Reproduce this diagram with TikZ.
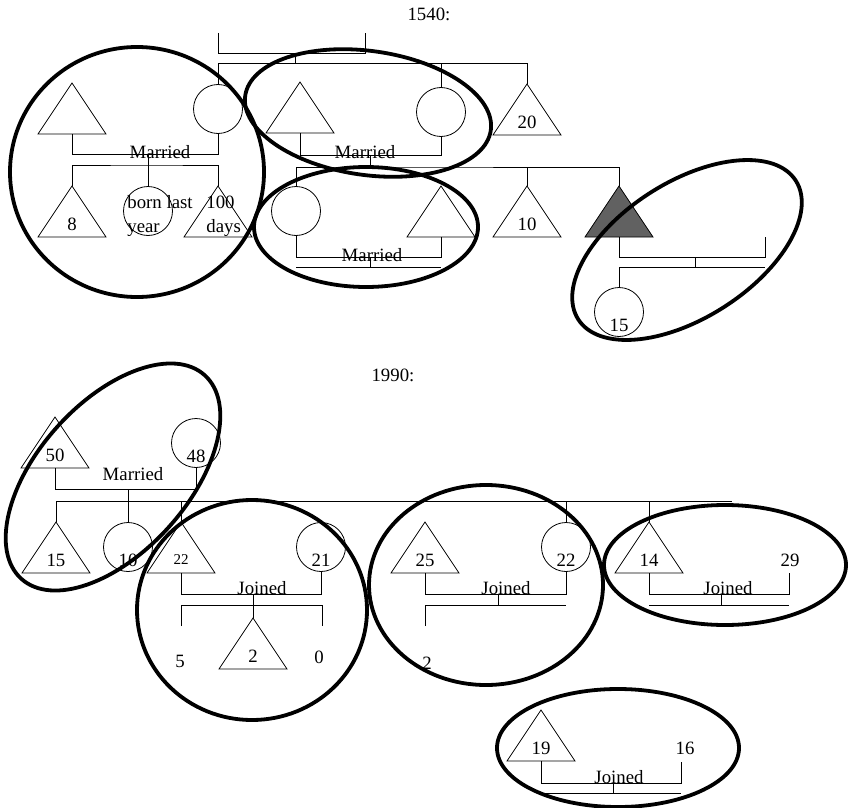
\documentclass[tikz,border=0pt]{standalone}
\usepackage{fontspec}
\setmainfont{Liberation Serif}
\tikzset{
  ring/.style={line width=3.8pt},
  male/.pic={
    \draw[pic actions] (0,0) -- (34,51) -- (-34,51) -- cycle;
    \coordinate (-top) at (0,0);
    \coordinate (-bot) at (0,51);
    \node (-lab) at (0,38) {#1};
  },
  female/.pic={
    \node[draw,circle,minimum size=49,inner sep=0] (-c) at (0,0) {};
    \node (-lab) at (0,13) {#1};
  },
}

\begin{document}
\begin{tikzpicture}[x=1pt,y=-1pt,line width=0.8pt,
	font=\fontsize{18.8}{24}\selectfont,every node/.append style={inner sep=0}]
	\useasboundingbox (0,0) rectangle (849,808);
	
	% 1540
	\node (t1540) at (429,14) {1540:};
	
	\coordinate (gpA) at (218,33);
	\coordinate (gpB) at (365,33);
	\coordinate (gpM) at (295,53);
	\coordinate (sibA) at (218,63);
	\coordinate (sibB) at (527,63);
	\draw (gpA) -- ++(0,20) -| (gpB);
	\draw (gpM) -- (gpM |- sibA);
	\draw (sibA) -- (sibB);
	
	\pic (mA) at (72,83) {male={}};
	\pic (fA) at (218,109) {female={}};
	\pic (mB) at (300,82) {male={}};
	\pic (fB) at (441,112) {female={}};
	\pic (mC) at (527,84) {male={20}};
	
	\draw (fA-c.north) -- (fA-c.north |- sibA);
	\draw (fB-c.north) -- (fB-c.north |- sibA);
	\draw (mC-top) -- (mC-top |- sibA);
	
	% left couple and kids
	\draw (mA-bot) -- ++(0,20) -| (fA-c.south);
	\node (mar1) at (160,152) {Married};
	\coordinate (kid1) at (148,154);
	\draw (kid1) -- ++(0,11) coordinate (bar1);
	
	\pic (mD) at (72,186) {male={8}};
	\pic (fD) at (148,211) {female={}};
	\pic (mE) at (218,186) {male={}};
	\node[align=left,anchor=west] (fDtxt) at (127,216) {born last\\year};
	\node[align=left,anchor=west] (mEtxt) at (206,216) {100\\days};
	\draw (mD-top) |- (bar1) -| (mE-top);
	\draw (fD-c.north) -- (bar1);
	
	% middle couple and kids
	\draw (mB-bot) -- ++(0,22) -| (fB-c.south);
	\node (mar2) at (365,152) {Married};
	\coordinate (kid2) at (370,155);
	\draw (kid2) -- ++(0,12) coordinate (bar2);
	
	\pic (fF) at (296,211) {female={}};
	\pic (mI) at (441,186) {male={}};
	\pic (mG) at (527,186) {male={10}};
	\pic[fill=black!62] (mH) at (619,186) {male={}};
	\draw (fF-c.north) |- (bar2) -| (mH-top);
	\draw (mG-top) -- (mG-top |- bar2);
	
	\draw (fF-c.south) -- ++(0,21) -| (mI-bot);
	\node (mar3) at (372,255) {Married};
	\coordinate (kid3) at (370,257);
	\draw (kid3) -- ++(0,10) coordinate (bar3);
	\draw (fF-c.south |- bar3) -- (mI-bot |- bar3);
	
	\coordinate (spH) at (765,237);
	\draw (mH-bot) -- ++(0,20) -| (spH);
	\coordinate (kid4) at (695,257);
	\draw (kid4) -- ++(0,10) coordinate (bar4);
	\pic (fJ) at (619,312) {female={15}};
	\draw (fJ-c.north) |- (spH |- bar4);
	
	\draw[ring] (137,172) ellipse [x radius=127, y radius=125];
	\draw[ring, rotate around={-8:(368,113)}] (368,113) ellipse [x radius=124, y radius=62];
	\draw[ring] (366,227) ellipse [x radius=112, y radius=60];
	\draw[ring, rotate around={32.5:(687,250)}] (687,250) ellipse [x radius=129, y radius=68];
	
	% 1990
	\node (t1990) at (393,375) {1990:};
	
	\pic (mK) at (55,417) {male={50}};
	\pic (fK) at (196,443) {female={48}};
	\draw (mK-bot) -- ++(0,21) -| (fK-c.south);
	\node (mar4) at (133,474) {Married};
	\coordinate (kid5) at (128,490);
	\draw (kid5) -- ++(0,11) coordinate (bar5);
	\coordinate (barEnd5) at (732,501);
	
	\pic (mL) at (56,522) {male={15}};
	\pic (fL) at (128,547) {female={10}};
	\pic (mM) at (181,522) {male={\fontsize{15}{18}\selectfont 22}};
	\pic (fM) at (321,547) {female={21}};
	\pic (mQ) at (425,522) {male={25}};
	\pic (fN) at (566,547) {female={22}};
	\pic (mO) at (649,522) {male={14}};
	
	\draw (mL-top) |- (barEnd5);
	\draw (fL-c.north) -- (bar5);
	\draw (mM-top) -- (mM-top |- bar5);
	\draw (fN-c.north) -- (fN-c.north |- bar5);
	\draw (mO-top) -- (mO-top |- bar5);
	
	% 22 + 21
	\draw (mM-bot) -- ++(0,21) -| (fM-c.south);
	\node (jn1) at (262,588) {Joined};
	\pic (mP) at (253,618) {male={2}};
	\coordinate (kid6) at (253,594);
	\draw (kid6) -- (mP-top);
	\coordinate (stub6a) at (181,626);
	\coordinate (stub6b) at (322,626);
	\draw (stub6a) -- ++(0,-21) -| (stub6b);
	\node (n5) at (180,661) {5};
	\node (n0) at (319,657) {0};
	
	% 25 + 22
	\draw (mQ-bot) -- ++(0,21) -| (fN-c.south);
	\node (jn2) at (506,588) {Joined};
	\coordinate (kid7) at (498,594);
	\draw (kid7) -- ++(0,11) coordinate (bar7);
	\coordinate (stub7) at (425,626);
	\draw (stub7) |- (fN-c.south |- bar7);
	\node (n2) at (427,663) {2};
	
	% 14 + 29
	\node (n29) at (790,560) {29};
	\coordinate (sp29) at (789,573);
	\draw (mO-bot) -- ++(0,21) -| (sp29);
	\node (jn3) at (728,588) {Joined};
	\coordinate (kid8) at (721,594);
	\draw (kid8) -- ++(0,11) coordinate (bar8);
	\draw (mO-bot |- bar8) -- (sp29 |- bar8);
	
	% 19 + 16
	\pic (mR) at (541,710) {male={19}};
	\node (n16) at (685,748) {16};
	\coordinate (sp16) at (681,762);
	\draw (mR-bot) -- ++(0,22) -| (sp16);
	\node (jn4) at (619,777) {Joined};
	\coordinate (kid9) at (613,783);
	\draw (kid9) -- ++(0,10) coordinate (bar9);
	\draw (mR-bot |- bar9) -- (sp16 |- bar9);
	
	\draw[ring, rotate around={48:(113,477)}] (113,477) ellipse [x radius=137, y radius=75];
	\draw[ring] (252,610) ellipse [x radius=115, y radius=110];
	\draw[ring] (486,585) ellipse [x radius=117, y radius=100];
	\draw[ring] (725,565) ellipse [x radius=121, y radius=60];
	\draw[ring] (618,748) ellipse [x radius=121, y radius=59];
\end{tikzpicture}
\end{document}
